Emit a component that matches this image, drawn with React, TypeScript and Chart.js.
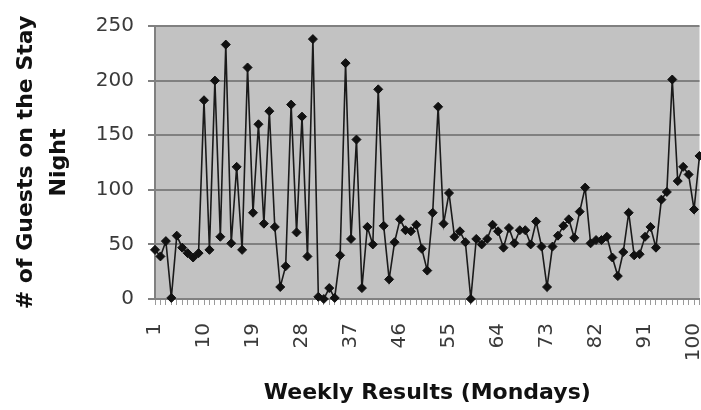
import React, { useEffect, useRef } from 'react';
import { Chart, registerables } from 'chart.js';

Chart.register(...registerables);

const WEEKS: number[] = [
  1, 2, 3, 4, 5, 6, 7, 8, 9, 10, 11, 12, 13, 14, 15, 16, 17, 18, 19, 20,
  21, 22, 23, 24, 25, 26, 27, 28, 29, 30, 31, 32, 33, 34, 35, 36, 37, 38, 39, 40,
  41, 42, 43, 44, 45, 46, 47, 48, 49, 50, 51, 52, 53, 54, 55, 56, 57, 58, 59, 60,
  61, 62, 63, 64, 65, 66, 67, 68, 69, 70, 71, 72, 73, 74, 75, 76, 77, 78, 79, 80,
  81, 82, 83, 84, 85, 86, 87, 88, 89, 90, 91, 92, 93, 94, 95, 96, 97, 98, 99, 100,
  101,
];

const GUESTS: number[] = [
  45, 39, 53, 1, 58, 47, 42, 38, 42, 182,
  45, 200, 57, 233, 51, 121, 45, 212, 79, 160,
  69, 172, 66, 11, 30, 178, 61, 167, 39, 238,
  2, 0, 10, 1, 40, 216, 55, 146, 10, 66,
  50, 192, 67, 18, 52, 73, 63, 62, 68, 46,
  26, 79, 176, 69, 97, 57, 62, 52, 0, 55,
  50, 55, 68, 62, 47, 65, 51, 63, 63, 50,
  71, 48, 11, 48, 58, 67, 73, 56, 80, 102,
  51, 54, 54, 57, 38, 21, 43, 79, 40, 41,
  57, 66, 47, 91, 98, 201, 108, 121, 114, 82,
  131,
];

const TICK_LABELS: string[] = ['1', '10', '19', '28', '37', '46', '55', '64', '73', '82', '91', '100'];
const Y_TITLE: string[] = ['# of Guests on the Stay', 'Night'];
const X_TITLE = 'Weekly Results (Mondays)';

const plotBackground = {
  id: 'plotBackground',
  beforeDraw(chart: any) {
    const { ctx, chartArea } = chart;
    if (!chartArea) return;
    const { left, top, right, bottom } = chartArea;
    ctx.save();
    ctx.fillStyle = '#c2c2c2';
    ctx.fillRect(left, top, right - left, bottom - top);
    ctx.restore();
  },
};

export default function App() {
  const canvasRef = useRef<HTMLCanvasElement | null>(null);

  useEffect(() => {
    const canvas = canvasRef.current;
    if (!canvas) return;
    const chart = new Chart(canvas, {
      type: 'line',
      data: {
        labels: WEEKS.map(String),
        datasets: [
          {
            data: GUESTS,
            borderColor: '#1a1a1a',
            borderWidth: 1.6,
            backgroundColor: '#111111',
            pointBackgroundColor: '#111111',
            pointBorderColor: '#111111',
            pointStyle: 'rectRot',
            pointRadius: 4.5,
            pointBorderWidth: 1,
            tension: 0,
            fill: false,
            clip: false,
          },
        ],
      },
      options: {
        responsive: false,
        animation: false,
        layout: { padding: { top: 26, left: 0, right: 0, bottom: 0 } },
        plugins: {
          legend: { display: false },
          tooltip: { enabled: false },
        },
        scales: {
          x: {
            type: 'category',
            offset: false,
            grid: {
              display: true,
              drawOnChartArea: false,
              drawTicks: true,
              tickLength: 6,
              color: '#9a9a9a',
              lineWidth: 1,
            },
            border: { display: true, color: '#808080', width: 2 },
            ticks: {
              autoSkip: false,
              maxRotation: 90,
              minRotation: 90,
              padding: 18,
              color: '#3a3a3a',
              font: { family: 'DejaVu Sans', size: 20 },
              callback: (_v: any, i: number) => {
                const l = String(WEEKS[i]);
                return TICK_LABELS.includes(l) ? l : '';
              },
            },
            title: {
              display: true,
              text: X_TITLE,
              color: '#111111',
              font: { family: 'DejaVu Sans', size: 22, weight: 'bold', lineHeight: 1.5 },
              padding: { top: 0, bottom: 0 },
            },
            afterFit: (s: any) => {
              s.height = 111;
              s.paddingLeft = 0;
              s.paddingRight = 0;
            },
          },
          y: {
            min: 0,
            max: 250,
            ticks: {
              stepSize: 50,
              padding: 14,
              color: '#3a3a3a',
              font: { family: 'DejaVu Sans', size: 20 },
            },
            grid: {
              color: '#808080',
              lineWidth: 2,
              drawTicks: true,
              tickLength: 7,
            },
            border: { display: true, color: '#808080', width: 2 },
            title: {
              display: true,
              text: Y_TITLE,
              color: '#111111',
              font: { family: 'DejaVu Sans', size: 22, weight: 'bold', lineHeight: 1.5 },
              padding: { top: 10, bottom: 0 },
            },
            afterFit: (s: any) => {
              s.width = 155;
            },
          },
        },
      } as any,
      plugins: [plotBackground],
    });
    return () => chart.destroy();
  }, []);

  return (
    <div style={{ position: 'absolute', left: 0, top: 0, width: 701, height: 410, background: '#ffffff', overflow: 'hidden' }}>
      <canvas ref={canvasRef} width={705} height={410} />
    </div>
  );
}
